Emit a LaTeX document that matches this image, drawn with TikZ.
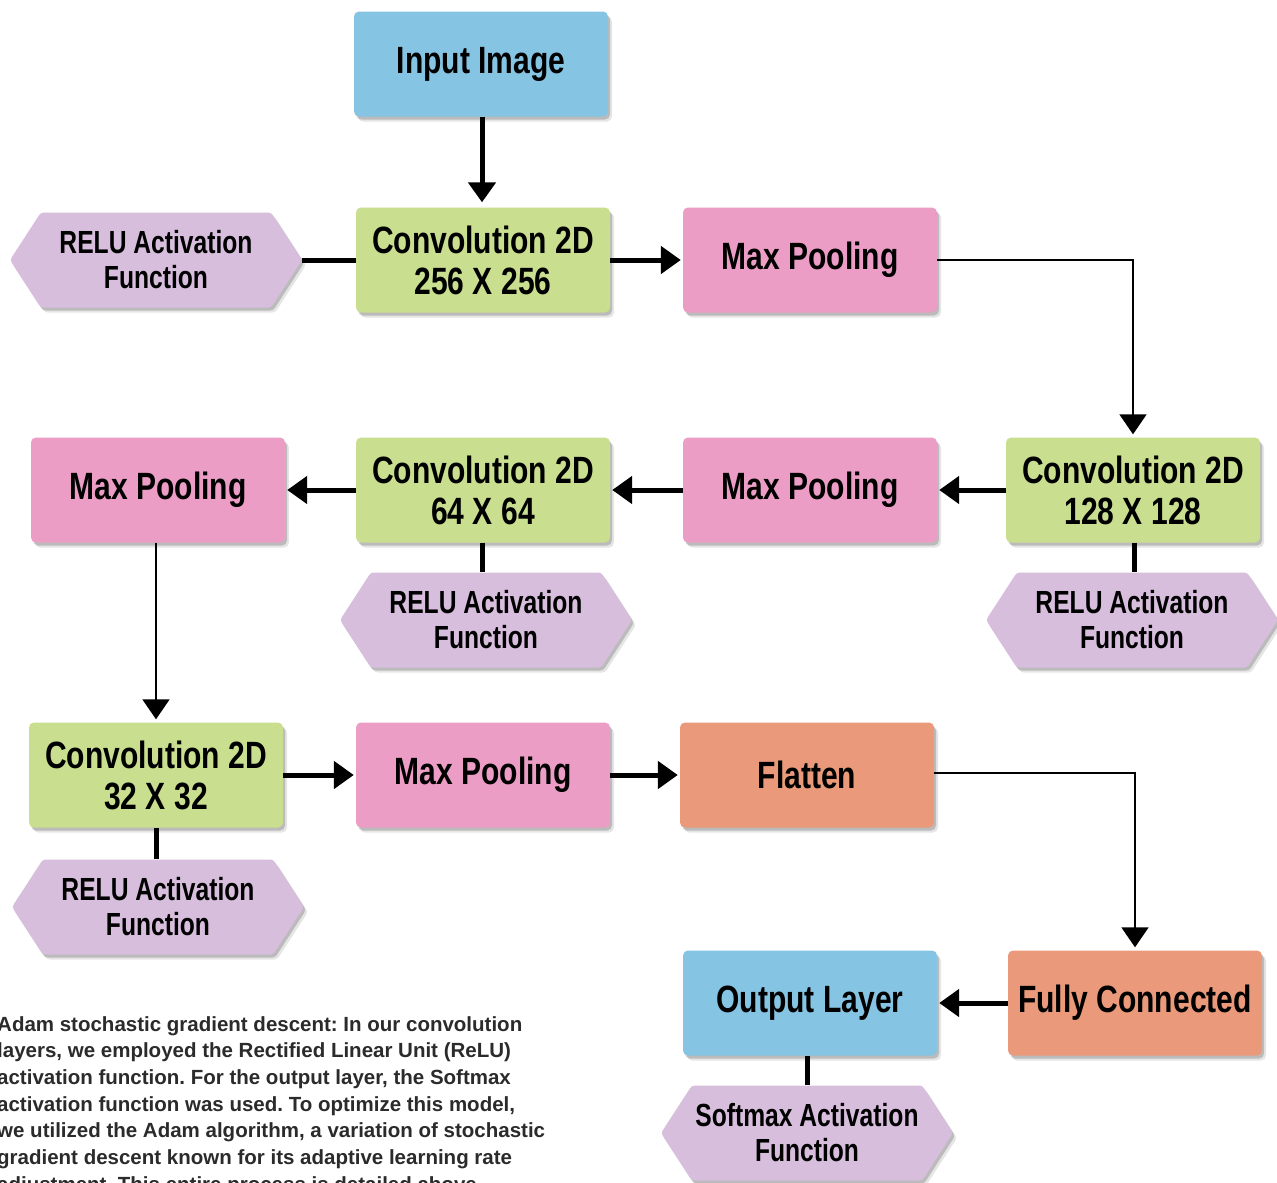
\documentclass[tikz,border=0pt]{standalone}
\usepackage{fontspec}
\setmainfont{Liberation Sans}
\newfontfamily\titlefont[FakeStretch=0.79]{Liberation Sans}
\newfontfamily\hexfont[FakeStretch=0.77]{Liberation Sans}
\usetikzlibrary{arrows.meta,shapes.symbols,shadows}
\definecolor{cblue}{HTML}{86C4E4}
\definecolor{cgreen}{HTML}{C9DE8E}
\definecolor{cpink}{HTML}{EC9DC5}
\definecolor{clav}{HTML}{D8BEDD}
\definecolor{csalmon}{HTML}{EA9A7A}
\definecolor{ctext}{HTML}{2B2B2B}
\tikzset{
  shadowed/.style={
    drop shadow={shadow xshift=2pt,shadow yshift=-3pt,opacity=.18,fill=black},
    drop shadow={shadow xshift=4pt,shadow yshift=-5pt,opacity=.10,fill=black}},
  box/.style={rectangle, rounded corners=5pt, minimum width=254pt, minimum height=105pt,
    inner sep=0pt, align=center, text=black, shadowed,
    font=\titlefont\bfseries\fontsize{38}{41}\selectfont},
  hexbox/.style={signal, signal to=west and east, signal pointer angle=114,
    minimum width=292pt, minimum height=95pt, inner sep=0pt, rounded corners=3pt,
    fill=clav, align=center, text=black, shadowed,
    font=\hexfont\bfseries\fontsize{32}{35}\selectfont},
  thk/.style={line width=5pt},
  thn/.style={line width=1.8pt},
  tip/.style={-{Triangle[width=27pt,length=20pt]}},
}
\begin{document}
\frenchspacing
\begin{tikzpicture}[x=1pt,y=-1pt]
\useasboundingbox (0,0) rectangle (1277,1183);
\clip (0,0) rectangle (1277,1183);
\fill[white] (0,0) rectangle (1277,1183);

% nodes
\node[box, fill=cblue]   (in)  at (481,64)   {Input Image};
\node[box, fill=cgreen]  (c1)  at (483,260)  {Convolution 2D\\256 X 256};
\node[box, fill=cpink]   (mp1) at (810,260)  {Max Pooling};
\node[hexbox]            (r1)  at (156,260)  {RELU Activation\\Function};

\node[box, fill=cgreen]  (c2)  at (1133,490) {Convolution 2D\\128 X 128};
\node[box, fill=cpink]   (mp2) at (810,490)  {Max Pooling};
\node[box, fill=cgreen]  (c3)  at (483,490)  {Convolution 2D\\64 X 64};
\node[box, fill=cpink]   (mp3) at (158,490)  {Max Pooling};
\node[hexbox]            (r2)  at (486,620)  {RELU Activation\\Function};
\node[hexbox]            (r3)  at (1132,620) {RELU Activation\\Function};

\node[box, fill=cgreen]  (c4)  at (156,775)  {Convolution 2D\\32 X 32};
\node[box, fill=cpink]   (mp4) at (483,775)  {Max Pooling};
\node[box, fill=csalmon] (fl)  at (807,775)  {Flatten};
\node[hexbox]            (r4)  at (158,907)  {RELU Activation\\Function};

\node[box, fill=csalmon] (fc)  at (1135,1003) {Fully Connected};
\node[box, fill=cblue]   (out) at (810,1003)  {Output Layer};
\node[hexbox]            (sm)  at (807,1133)  {Softmax Activation\\Function};

% caption
\node[anchor=north west, inner sep=0pt, align=left, text=ctext,
      font=\bfseries\fontsize{20.5}{26.7}\selectfont] (cap) at (-3,1016)
  {Adam stochastic gradient descent: In our convolution\\
   layers, we employed the Rectified Linear Unit (ReLU)\\
   activation function. For the output layer, the Softmax\\
   activation function was used. To optimize this model,\\
   we utilized the Adam algorithm, a variation of stochastic\\
   gradient descent known for its adaptive learning rate\\
   adjustment. This entire process is detailed above.};

% connectors
\draw[thk,tip,shorten >=5pt] (in.south -| 482,0) -- (c1.north -| 482,0);
\draw[thk] (r1.east) -- (c1.west);
\draw[thk,tip,shorten >=2pt] (c1.east) -- (mp1.west);
\draw[thn,tip,shorten >=3pt] (mp1.east) -| (c2.north);

\draw[thk,tip,shorten >=2pt] (c2.west) -- (mp2.east);
\draw[thk,tip,shorten >=2pt] (mp2.west) -- (c3.east);
\draw[thk,tip,shorten >=2pt] (c3.west) -- (mp3.east);
\draw[thk] (c3.south -| 482,0) -- (r2.north -| 482,0);
\draw[thk] (c2.south -| 1134,0) -- (r3.north -| 1134,0);

\draw[thn,tip,shorten >=3pt] (mp3.south -| c4.north) -- (c4.north);
\draw[thk,tip,shorten >=2pt] (c4.east) -- (mp4.west);
\draw[thk,tip,shorten >=2pt] (mp4.east) -- (fl.west);
\draw[thk] (c4.south) -- (r4.north -| c4.south);
\draw[thn,tip,shorten >=3pt] ([yshift=2pt]fl.east) -| (fc.north);

\draw[thk,tip,shorten >=2pt] (fc.west) -- (out.east);
\draw[thk] (out.south -| 807,0) -- (sm.north -| 807,0);
\end{tikzpicture}
\end{document}
